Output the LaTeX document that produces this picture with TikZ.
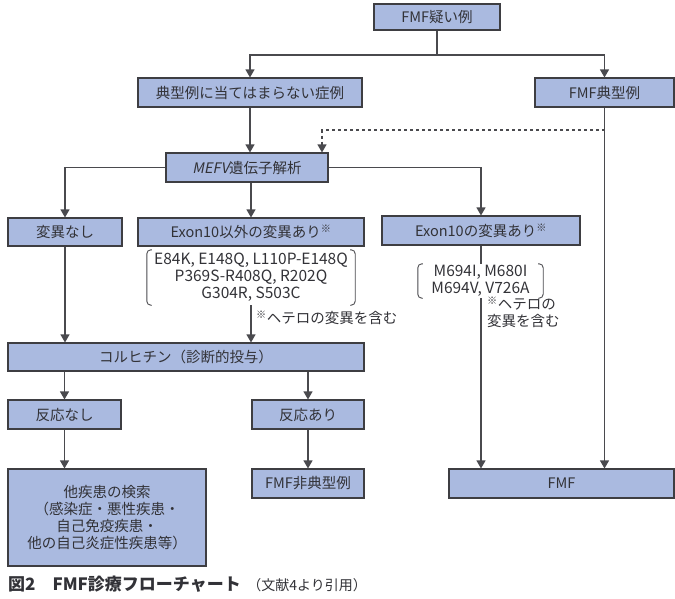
\documentclass[tikz,border=0pt]{standalone}
\usepackage{fontspec}
\setmainfont{Noto Sans CJK JP}
\newfontfamily\slantfont[FakeSlant=0.2]{Noto Sans CJK JP}
\usepackage{tikz}
\usetikzlibrary{arrows.meta,positioning,calc}
\definecolor{boxfill}{RGB}{170,186,224}
\definecolor{boxline}{RGB}{62,62,66}
\definecolor{linegray}{RGB}{74,74,78}
\definecolor{textgray}{RGB}{50,50,55}

\begin{document}
\begin{tikzpicture}[x=1pt,y=-1pt,
    box/.style={draw=boxline,fill=boxfill,line width=1.1pt,inner sep=0pt,minimum height=29pt,text=textgray,font=\fontsize{14.5}{17}\selectfont},
    plain/.style={inner sep=0pt,text=textgray,font=\fontsize{14.5}{17}\selectfont,align=center},
    conn/.style={draw=linegray,line width=1.1pt},
    arr/.style={conn,-{Triangle[length=8pt,width=9pt]}}]
    \useasboundingbox (0,0) rectangle (675,598);

    % Top
    \node[box,minimum width=126pt,minimum height=26pt] (susp) at (437,17) {FMF疑い例};
    \node[box,minimum width=224pt] (atyp) at (250,92.5) {典型例に当てはまらない症例};
    \node[box,minimum width=139pt] (typ) at (604.5,92.5) {FMF典型例};
    \node[box,minimum width=162pt] (mefv) at (247,167.5) {{\slantfont MEFV}遺伝子解析};

    % Gene results
    \node[box,minimum width=114pt,minimum height=28pt] (nomut) at (65,232) {変異なし};
    \node[box,minimum width=226pt,minimum height=28pt] (other) at (251,232) {Exon10以外の変異あり\textsuperscript{※}};
    \node[box,minimum width=198pt] (exon) at (481,230.5) {Exon10の変異あり\textsuperscript{※}};
    \node[plain,font=\fontsize{15.5}{17}\selectfont,minimum width=208pt,minimum height=55pt] (othlist) at (251,277.5) {E84K, E148Q, L110P-E148Q\\P369S-R408Q, R202Q\\G304R, S503C};
    \node[plain,anchor=west] (othnote) at (256,318) {\textsuperscript{※}ヘテロの変異を含む};
    \node[plain,font=\fontsize{15.5}{17}\selectfont,minimum width=125pt,minimum height=34pt] (exlist) at (480.5,281) {M694I, M680I\\M694V, V726A};
    \node[plain,anchor=north west,align=left] (exnote) at (487,297) {\textsuperscript{※}ヘテロの\\変異を含む};

    % Brackets
    \foreach \n in {othlist,exlist} {
        \draw[conn,line width=0.9pt,rounded corners=4pt] ([xshift=5pt]\n.north west) -- (\n.north west) -- (\n.south west) -- ([xshift=5pt]\n.south west);
        \draw[conn,line width=0.9pt,rounded corners=4pt] ([xshift=-5pt]\n.north east) -- (\n.north east) -- (\n.south east) -- ([xshift=-5pt]\n.south east);
    }

    % Colchicine
    \node[box,minimum width=356pt,minimum height=28pt] (colch) at (186,357) {コルヒチン（診断的投与）};
    \node[box,minimum width=113pt] (nores) at (64.5,414.5) {反応なし};
    \node[box,minimum width=112pt] (res) at (308,414.5) {反応あり};
    \node[box,minimum width=198pt,minimum height=97pt,align=center] (search) at (107,517.5) {他疾患の検索\\（感染症・悪性疾患・\\自己免疫疾患・\\他の自己炎症性疾患等）};
    \node[box,minimum width=112pt] (atypfmf) at (308,483.5) {FMF非典型例};
    \node[box,minimum width=225pt] (fmf) at (561.5,483.5) {FMF};

    % Connections
    \coordinate (split) at (437,55);
    \coordinate (dash0) at (604.5,130);
    \draw[conn] (susp) -- (split);
    \draw[arr] (split) -| (atyp);
    \draw[arr] (split) -| (typ);
    \draw[arr] (atyp) -- (atyp |- mefv.north);
    \draw[arr,dashed] (dash0) -| ([xshift=75pt]mefv.north);
    \draw[arr] (typ) -- (typ |- fmf.north);
    \draw[arr] (mefv.west) -| (nomut);
    \draw[arr] (mefv.east) -| (exon);
    \draw[arr] (other |- mefv.south) -- (other);
    \draw[conn] (exon) -- (exon |- exlist.north);
    \draw[arr] (exon |- exlist.south) -- (exon |- fmf.north);
    \draw[arr] (nomut) -- (nomut |- colch.north);
    \draw[arr] (othlist.south) -- (othlist.south |- colch.north);
    \draw[arr] (colch.south -| nores) -- (nores);
    \draw[arr] (colch.south -| res) -- (res);
    \draw[arr] (nores) -- (nores |- search.north);
    \draw[arr] (res) -- (atypfmf);

    % Caption
    \node[plain,anchor=west] (caption) at (8,584) {{\fontsize{17}{19}\selectfont\bfseries 図2\quad FMF診療フローチャート}\ \ {\fontsize{14}{16}\selectfont（文献4より引用）}};
\end{tikzpicture}
\end{document}
